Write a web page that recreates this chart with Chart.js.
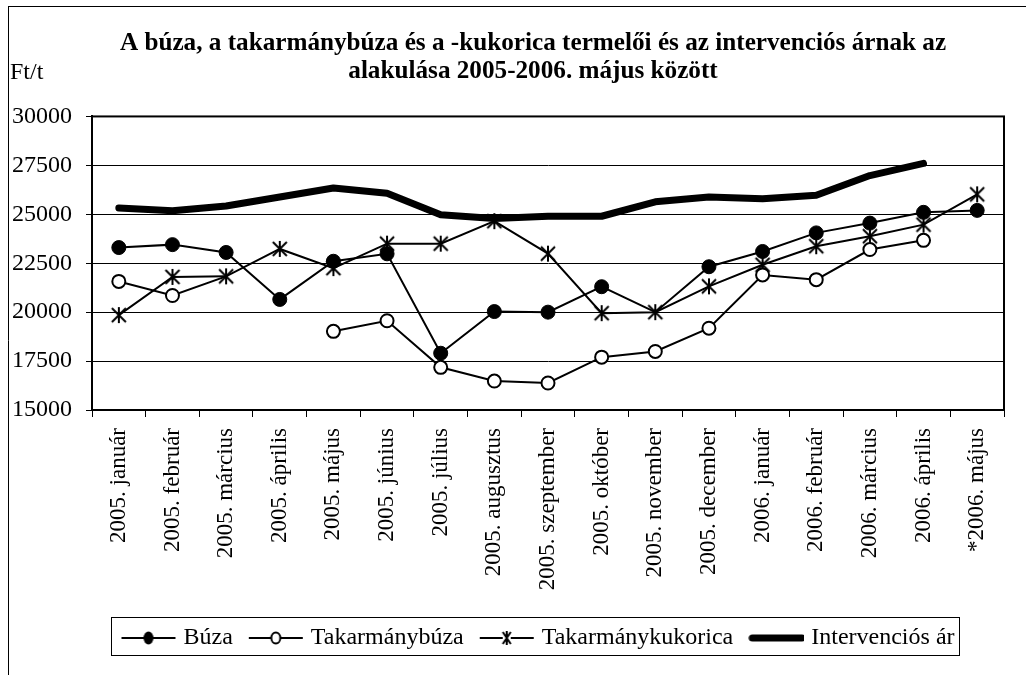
<!DOCTYPE html>
<html>
<head>
<meta charset="utf-8">
<script src="https://cdn.jsdelivr.net/npm/chart.js@4"></script>
<style>
html, body { margin: 0; padding: 0; background: #fff; }
</style>
</head>
<body>
<canvas id="arChart" width="1026" height="675"></canvas>
<script>
// adatok (Ft/t)
var honapok = [
    '2005. január', '2005. február', '2005. március', '2005. április',
    '2005. május', '2005. június', '2005. július', '2005. augusztus',
    '2005. szeptember', '2005. október', '2005. november', '2005. december',
    '2006. január', '2006. február', '2006. március', '2006. április',
    '*2006. május'
];
var buza = [23300, 23450, 23050, 20650, 22600, 22980, 17900, 20030, 20000, 21300, 20000, 22320, 23100, 24050, 24550, 25100, 25200];
var takarmanybuza = [21570, 20850, 21830, null, 19020, 19560, 17180, 16480, 16380, 17700, 17990, 19180, 21900, 21660, 23200, 23670, null];
var takarmanykukorica = [19850, 21800, 21830, 23230, 22250, 23500, 23500, 24650, 22990, 19950, 20000, 21320, 22420, 23370, 23880, 24470, 26020];
var intervenciosAr = [25320, 25180, 25420, 25880, 26340, 26080, 24980, 24790, 24900, 24900, 25640, 25880, 25800, 25970, 26980, 27600, null];
var yTicks = [15000, 17500, 20000, 22500, 25000, 27500, 30000];

// pontok, ahol az eredetin nincs jelölő
var buzaJelNelkul = [10];
var takarmanybuzaJelNelkul = [2];

var serif = "'Liberation Serif', 'Times New Roman', serif";

function starMarker() {
    var c = document.createElement('canvas');
    c.width = 18; c.height = 18;
    var g = c.getContext('2d');
    g.strokeStyle = '#000';
    g.lineWidth = 2;
    g.beginPath();
    g.moveTo(2, 2); g.lineTo(16, 16);
    g.moveTo(16, 2); g.lineTo(2, 16);
    g.moveTo(9, 1); g.lineTo(9, 17);
    g.stroke();
    return c;
}

function legendMarker(kind) {
    var c = document.createElement('canvas');
    c.width = 56; c.height = 20;
    var g = c.getContext('2d');
    g.strokeStyle = '#000';
    g.fillStyle = '#000';
    if (kind === 'thick') {
        g.lineWidth = 7;
        g.lineCap = 'round';
        g.beginPath(); g.moveTo(4, 10); g.lineTo(54, 10); g.stroke();
        return c;
    }
    g.lineWidth = 2;
    g.beginPath(); g.moveTo(1, 10); g.lineTo(55, 10); g.stroke();
    if (kind === 'filled') {
        g.beginPath(); g.ellipse(28, 10, 5, 6.5, 0, 0, Math.PI * 2); g.fill();
    } else if (kind === 'open') {
        g.fillStyle = '#fff';
        g.beginPath(); g.ellipse(28, 10, 4.5, 5.5, 0, 0, Math.PI * 2); g.fill(); g.stroke();
    } else if (kind === 'star') {
        g.clearRect(24, 3, 8, 14);
        g.beginPath();
        g.moveTo(24, 4); g.lineTo(32, 16);
        g.moveTo(32, 4); g.lineTo(24, 16);
        g.moveTo(28, 3); g.lineTo(28, 17);
        g.stroke();
    }
    return c;
}

var legendImgs = [legendMarker('filled'), legendMarker('open'), legendMarker('star'), legendMarker('thick')];

// a címet és a jelmagyarázatot középre toljuk
var cimKozep = 533;
var jelmagyKozep = 540;

var framePlugin = {
    id: 'frame',
    afterUpdate: function (chart) {
        var lg = chart.legend;
        var dx = jelmagyKozep - (lg.left + lg.right) / 2;
        lg.left += dx; lg.right += dx;
        lg.legendHitBoxes.forEach(function (h) { h.left += dx; });
        var tb = chart.titleBlock;
        var tx = cimKozep - (tb.left + tb.right) / 2;
        tb.left += tx; tb.right += tx;
    },
    beforeDraw: function (chart) {
        var c = chart.ctx;
        c.save();
        c.fillStyle = '#fff';
        c.fillRect(0, 0, chart.width, chart.height);
        c.strokeStyle = '#000';
        c.lineWidth = 1;
        c.beginPath();
        c.moveTo(8.5, 6); c.lineTo(8.5, chart.height);
        c.moveTo(8, 6.5); c.lineTo(chart.width, 6.5);
        c.stroke();
        c.fillStyle = '#000';
        c.font = '24px ' + serif;
        c.textBaseline = 'alphabetic';
        c.fillText('Ft/t', 10, 79);
        c.restore();
    },
    afterDraw: function (chart) {
        var c = chart.ctx, a = chart.chartArea;
        c.save();
        c.strokeStyle = '#000';
        c.lineWidth = 2;
        c.strokeRect(a.left, a.top, a.right - a.left, a.bottom - a.top);
        var hb = chart.legend.legendHitBoxes;
        if (hb && hb.length) {
            var l = hb[0].left - 14, r = hb[hb.length - 1].left + hb[hb.length - 1].width + 5;
            var t = hb[0].top - 9, b = hb[0].top + hb[0].height + 5;
            c.lineWidth = 1;
            c.strokeRect(Math.round(l) + 0.5, Math.round(t) + 0.5, Math.round(r - l), Math.round(b - t));
        }
        c.restore();
    }
};

var config = {
    type: 'line',
    data: {
        labels: honapok,
        datasets: [{
            label: 'Búza',
            data: buza,
            borderColor: '#000',
            backgroundColor: '#000',
            borderWidth: 2,
            pointStyle: 'circle',
            pointRadius: function (ctx) { return buzaJelNelkul.indexOf(ctx.dataIndex) >= 0 ? 0 : 7; },
            pointBackgroundColor: '#000',
            pointBorderColor: '#000',
            pointBorderWidth: 1,
            tension: 0
        }, {
            label: 'Takarmánybúza',
            data: takarmanybuza,
            borderColor: '#000',
            backgroundColor: '#fff',
            borderWidth: 2,
            pointStyle: 'circle',
            pointRadius: function (ctx) { return takarmanybuzaJelNelkul.indexOf(ctx.dataIndex) >= 0 ? 0 : 6.5; },
            pointBackgroundColor: '#fff',
            pointBorderColor: '#000',
            pointBorderWidth: 2,
            tension: 0
        }, {
            label: 'Takarmánykukorica',
            data: takarmanykukorica,
            borderColor: '#000',
            backgroundColor: '#000',
            borderWidth: 2,
            pointStyle: starMarker(),
            pointRadius: 8,
            tension: 0
        }, {
            label: 'Intervenciós ár',
            data: intervenciosAr,
            borderColor: '#000',
            backgroundColor: '#000',
            borderWidth: 7,
            borderCapStyle: 'round',
            borderJoinStyle: 'round',
            pointRadius: 0,
            tension: 0
        }]
    },
    options: {
        responsive: false,
        animation: false,
        spanGaps: false,
        layout: { padding: { left: 0, right: 22, top: 0, bottom: 15 } },
        plugins: {
            title: {
                display: true,
                text: ['A búza, a takarmánybúza és a -kukorica termelői és az intervenciós árnak az',
                    'alakulása 2005-2006. május között'],
                color: '#000',
                font: { family: serif, size: 25.2, weight: 'bold', lineHeight: 1.1 },
                padding: { top: 30, bottom: 31 }
            },
            legend: {
                position: 'bottom',
                labels: {
                    color: '#000',
                    font: { family: serif, size: 24 },
                    usePointStyle: true,
                    pointStyleWidth: 46,
                    padding: 20,
                    generateLabels: function (chart) {
                        return chart.data.datasets.map(function (ds, i) {
                            return {
                                text: ds.label,
                                pointStyle: legendImgs[i],
                                fillStyle: '#000',
                                strokeStyle: '#000',
                                lineWidth: 0,
                                hidden: false,
                                datasetIndex: i
                            };
                        });
                    }
                }
            },
            tooltip: { enabled: false }
        },
        scales: {
            x: {
                offset: true,
                grid: {
                    offset: true,
                    drawOnChartArea: false,
                    drawTicks: true,
                    tickLength: 7,
                    color: '#000'
                },
                border: { color: '#000', width: 2 },
                ticks: {
                    autoSkip: false,
                    maxRotation: 90,
                    minRotation: 90,
                    padding: 11,
                    color: '#000',
                    font: { family: serif, size: 23 }
                },
                afterFit: function (scale) { scale.height = 196; }
            },
            y: {
                min: 15000,
                max: 30000,
                afterBuildTicks: function (scale) {
                    scale.ticks = yTicks.map(function (v) { return { value: v }; });
                },
                grid: {
                    color: '#000',
                    lineWidth: 1,
                    tickLength: 6
                },
                border: { color: '#000', width: 2 },
                ticks: {
                    padding: 14,
                    color: '#000',
                    font: { family: serif, size: 24 },
                    callback: function (v) { return String(v); }
                },
                afterFit: function (scale) { scale.width = 92; }
            }
        }
    },
    plugins: [framePlugin]
};

var ctx = document.getElementById('arChart').getContext('2d');
window.arChart = new Chart(ctx, config);
</script>
</body>
</html>
